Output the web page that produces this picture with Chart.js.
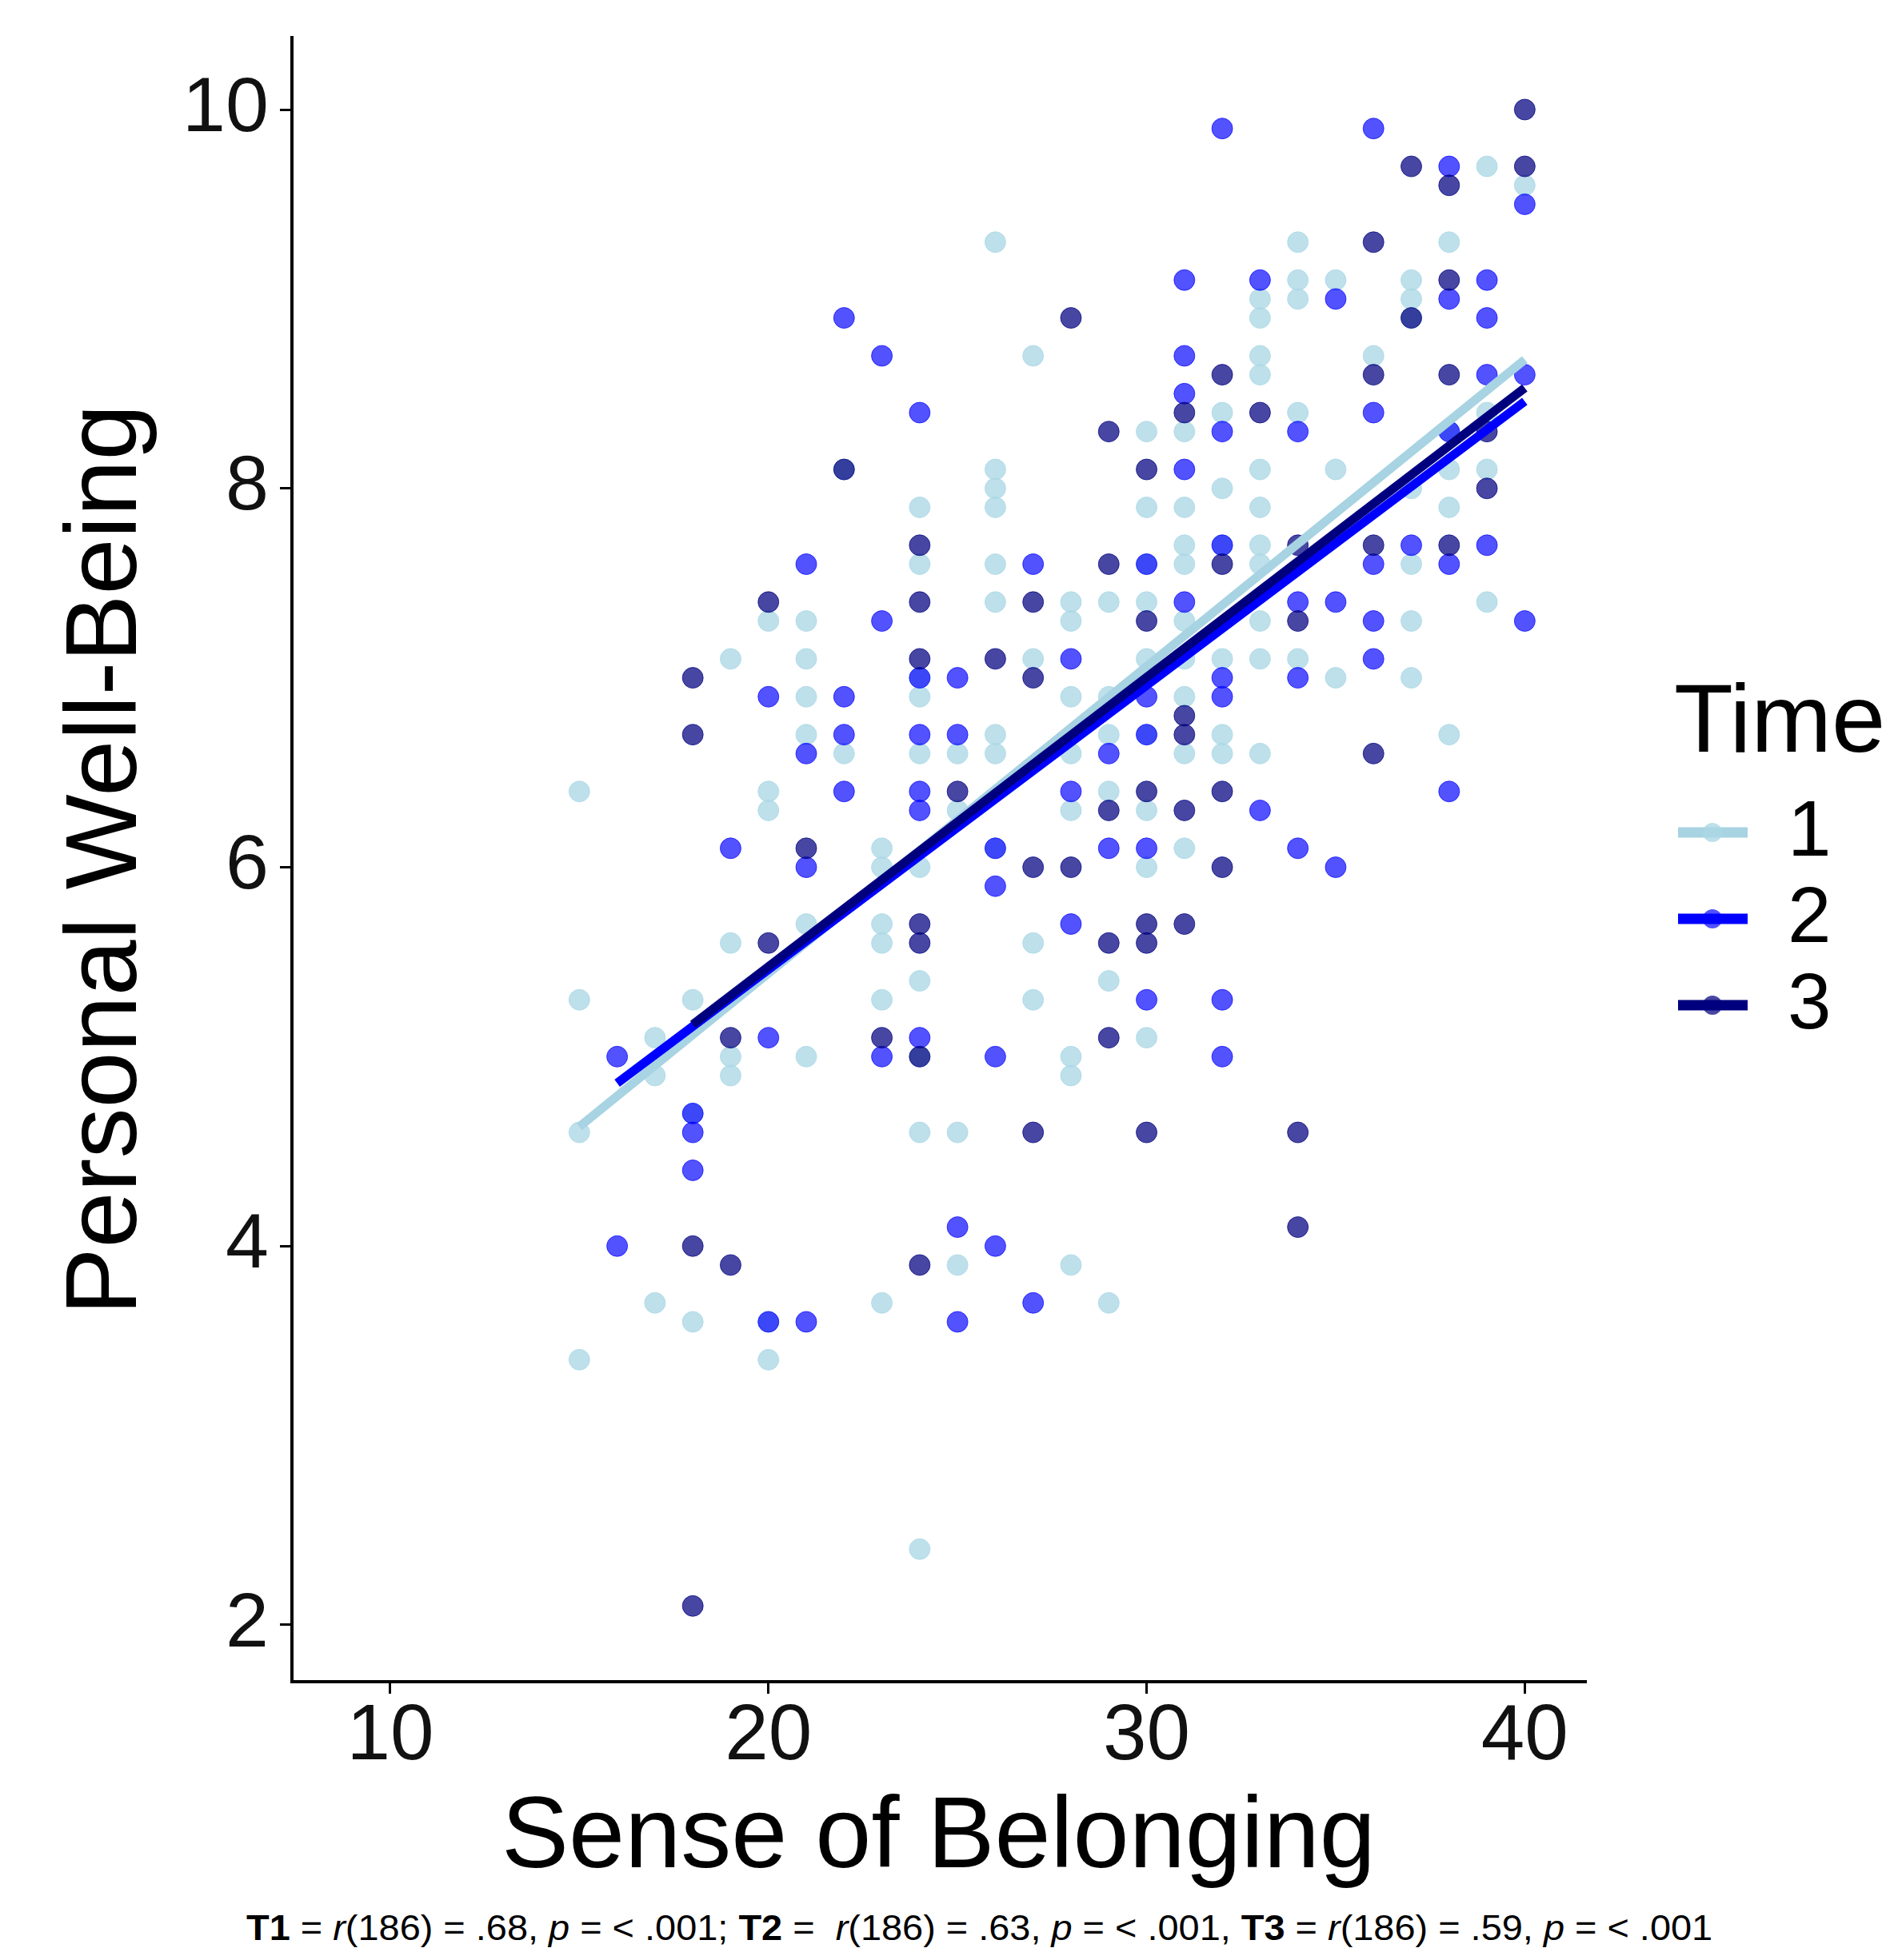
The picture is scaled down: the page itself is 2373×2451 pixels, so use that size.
<!DOCTYPE html>
<html>
<head>
<meta charset="utf-8">
<title>Sense of Belonging vs Personal Well-Being</title>
<script src="https://cdn.jsdelivr.net/npm/chart.js@4.4.1/dist/chart.umd.min.js"></script>
<style>
  body { margin: 0; background: #fff; }
  #wrap { position: relative; width: 2373px; height: 2451px; background: #fff; }
  #chartBox { position: absolute; left: 0; top: 0; width: 2373px; height: 2376px; }
  #note {
    position: absolute; left: 308px; top: 2386px;
    font-family: "Liberation Sans Narrow", "Liberation Sans", sans-serif;
    font-size: 44px; white-space: nowrap; color: #000;
    transform-origin: 0 0;
  }
</style>
</head>
<body>
<div id="wrap">
  <div id="chartBox"><canvas id="scatterChart" width="2373" height="2376"></canvas></div>
  <div id="note"><b>T1</b> = <i>r</i>(186) = .68, <i>p</i> = &lt; .001; <b>T2</b> = &nbsp;<i>r</i>(186) = .63, <i>p</i> = &lt; .001, <b>T3</b> = <i>r</i>(186) = .59, <i>p</i> = &lt; .001</div>
</div>
<script>
// [sense of belonging, personal well-being]
const time1Points = [
  [15,6.4],[15,5.3],[15,4.6],[15,3.4],
  [17,5.1],[17,4.9],[17,3.7],
  [18,5.3],[18,4.7],[18,3.6],
  [19,7.1],[19,5.6],[19,5.0],[19,4.9],
  [20,7.3],[20,6.4],[20,6.3],[20,3.6],[20,3.4],
  [21,7.3],[21,7.1],[21,6.9],[21,6.7],[21,5.7],[21,5.0],
  [22,8.1],[22,6.6],
  [23,6.1],[23,6.0],[23,5.7],[23,5.6],[23,5.3],[23,3.7],
  [24,7.9],[24,7.6],[24,7.0],[24,6.9],[24,6.6],[24,6.0],[24,5.4],[24,5.0],[24,4.6],[24,2.4],
  [25,6.6],[25,6.3],[25,4.6],[25,3.9],
  [26,9.3],[26,8.1],[26,8.0],[26,7.9],[26,7.6],[26,7.4],[26,6.7],[26,6.6],[26,6.1],
  [27,8.7],[27,7.1],[27,5.6],[27,5.3],
  [28,7.4],[28,7.3],[28,6.9],[28,6.6],[28,6.3],[28,5.0],[28,4.9],[28,3.9],
  [29,7.4],[29,6.9],[29,6.7],[29,6.4],[29,5.4],[29,3.7],
  [30,8.3],[30,7.9],[30,7.6],[30,7.4],[30,7.1],[30,6.7],[30,6.3],[30,6.0],[30,5.1],
  [31,8.3],[31,7.9],[31,7.7],[31,7.6],[31,7.3],[31,7.1],[31,6.9],[31,6.6],[31,6.1],
  [32,8.4],[32,8.0],[32,7.7],[32,7.1],[32,6.7],[32,6.6],
  [33,9.0],[33,8.9],[33,8.7],[33,8.6],[33,8.1],[33,7.9],[33,7.7],[33,7.6],[33,7.3],[33,7.1],[33,6.6],
  [34,9.3],[34,9.1],[34,9.0],[34,8.4],[34,7.1],
  [35,9.1],[35,8.1],[35,7.0],
  [36,8.7],
  [37,9.1],[37,9.0],[37,8.9],[37,8.0],[37,7.6],[37,7.3],[37,7.0],
  [38,9.3],[38,8.3],[38,8.1],[38,7.9],[38,6.7],
  [39,9.7],[39,8.4],[39,8.1],[39,7.4],
  [40,9.6]
];

const time2Points = [
  [16,5.0],[16,4.0],
  [18,4.7],[18,4.6],[18,4.4],
  [19,6.1],
  [20,6.9],[20,5.1],[20,3.6],
  [21,7.6],[21,6.6],[21,6.0],[21,3.6],
  [22,8.9],[22,6.9],[22,6.7],[22,6.4],
  [23,8.7],[23,7.3],[23,5.0],
  [24,8.4],[24,7.0],[24,6.7],[24,6.4],[24,6.3],[24,5.1],
  [25,7.0],[25,6.7],[25,4.1],[25,3.6],
  [26,6.1],[26,5.9],[26,5.0],[26,4.0],
  [27,7.6],[27,3.7],
  [28,7.1],[28,6.4],[28,5.7],
  [29,6.6],[29,6.1],
  [30,7.6],[30,6.9],[30,6.7],[30,6.1],[30,5.3],
  [31,9.1],[31,8.7],[31,8.5],[31,8.1],[31,7.4],
  [32,9.9],[32,8.3],[32,7.7],[32,7.0],[32,6.9],[32,5.3],[32,5.0],
  [33,9.1],[33,6.3],
  [34,8.3],[34,7.4],[34,7.0],[34,6.1],
  [35,9.0],[35,7.4],[35,6.0],
  [36,9.9],[36,8.4],[36,7.6],[36,7.3],[36,7.1],
  [37,7.7],
  [38,9.7],[38,9.0],[38,8.3],[38,7.6],[38,6.4],
  [39,9.1],[39,8.9],[39,8.6],[39,7.7],
  [40,9.5],[40,8.6],[40,7.3]
];

const time3Points = [
  [18,7.0],[18,6.7],[18,4.0],[18,2.1],
  [19,5.1],[19,3.9],
  [20,7.4],[20,5.6],
  [21,6.1],
  [22,8.1],
  [23,5.1],
  [24,7.7],[24,7.4],[24,7.1],[24,5.7],[24,5.6],[24,5.0],[24,3.9],
  [25,6.4],
  [26,7.1],
  [27,7.4],[27,7.0],[27,6.0],[27,4.6],
  [28,8.9],[28,6.0],
  [29,8.3],[29,7.6],[29,6.3],[29,5.6],[29,5.1],
  [30,8.1],[30,7.3],[30,6.4],[30,5.7],[30,5.6],[30,4.6],
  [31,8.4],[31,6.8],[31,6.7],[31,6.3],[31,5.7],
  [32,8.6],[32,7.6],[32,6.4],[32,6.0],
  [33,8.4],
  [34,7.7],[34,7.3],[34,4.6],[34,4.1],
  [36,9.3],[36,8.6],[36,7.7],[36,6.6],
  [37,9.7],[37,8.9],
  [38,9.6],[38,9.1],[38,8.6],[38,7.7],
  [39,8.3],[39,8.0],
  [40,10.0],[40,9.7]
];

// fitted lines, end points
const time1Fit = [[15,4.63],[40,8.68]];
const time2Fit = [[16,4.86],[40,8.46]];
const time3Fit = [[18,5.17],[40,8.53]];

const timeLabels = ["1", "2", "3"];
const xTicks = [10, 20, 30, 40];
const yTicks = [2, 4, 6, 8, 10];

const lineColors = ["#a7d3e2", "#0000ff", "#00007f"];
const pointColors = ["rgba(173,216,230,0.8)", "rgba(0,0,255,0.68)", "rgba(0,0,128,0.72)"];

const toXY = (arr) => arr.map((p) => ({ x: p[0], y: p[1] }));

const fitSet = (fit, i) => ({
  type: "line",
  label: timeLabels[i],
  data: toXY(fit),
  borderColor: lineColors[i],
  backgroundColor: lineColors[i],
  borderWidth: 11,
  pointRadius: 0,
  fill: false,
  order: 2 - i,
  dotColor: pointColors[i],
});

const pointSet = (pts, i) => ({
  type: "scatter",
  label: "Time " + timeLabels[i] + " points",
  data: toXY(pts),
  backgroundColor: pointColors[i],
  borderColor: pointColors[i],
  borderWidth: 1,
  pointRadius: 13,
  order: 5 - i,
});

const legendTitle = "Time";

const timeLegend = {
  id: "timeLegend",
  afterDraw(chart) {
    const ctx = chart.ctx;
    ctx.save();
    ctx.fillStyle = "#000";
    ctx.textBaseline = "alphabetic";
    ctx.font = '121px "Liberation Sans", Arial, sans-serif';
    ctx.fillText(legendTitle, 2093, 940);
    const fits = chart.data.datasets.filter((d) => d.type === "line");
    fits.forEach((ds, i) => {
      const y = 1041 + i * 108;
      ctx.strokeStyle = ds.borderColor;
      ctx.lineWidth = 13;
      ctx.beginPath();
      ctx.moveTo(2098, y);
      ctx.lineTo(2185, y);
      ctx.stroke();
      ctx.fillStyle = ds.dotColor;
      ctx.beginPath();
      ctx.arc(2141, y, 12, 0, Math.PI * 2);
      ctx.fill();
      ctx.fillStyle = "#000";
      ctx.font = '98px "Liberation Sans", Arial, sans-serif';
      ctx.textBaseline = "middle";
      ctx.fillText(ds.label, 2235, y + 2);
    });
    ctx.restore();
  },
};

Chart.defaults.font.family = '"Liberation Sans", Arial, sans-serif';
Chart.defaults.color = "#111";

const ctx = document.getElementById("scatterChart").getContext("2d");
new Chart(ctx, {
  type: "scatter",
  data: {
    datasets: [
      fitSet(time1Fit, 0),
      fitSet(time2Fit, 1),
      fitSet(time3Fit, 2),
      pointSet(time1Points, 0),
      pointSet(time2Points, 1),
      pointSet(time3Points, 2),
    ],
  },
  options: {
    responsive: false,
    animation: false,
    layout: { padding: { left: 60, right: 391, top: 47, bottom: 0 } },
    plugins: {
      legend: { display: false },
      tooltip: { enabled: false },
    },
    scales: {
      x: {
        type: "linear",
        position: "bottom",
        min: 7.4,
        max: 41.6,
        afterBuildTicks: (axis) => {
          axis.ticks = xTicks.map((v) => ({ value: v }));
        },
        afterFit: (scale) => {
          scale.height = 273;
        },
        ticks: { font: { size: 98, lineHeight: 1 }, padding: 6, color: "#111" },
        grid: { drawOnChartArea: false, drawTicks: true, tickLength: 15, color: "#000", lineWidth: 3 },
        border: { display: true, color: "#000", width: 4 },
        title: {
          display: true,
          text: "Sense of Belonging",
          font: { size: 126 },
          color: "#000",
          padding: 0,
        },
      },
      y: {
        type: "linear",
        min: 1.7,
        max: 10.38,
        afterBuildTicks: (axis) => {
          axis.ticks = yTicks.map((v) => ({ value: v }));
        },
        afterFit: (scale) => {
          scale.width = 305;
        },
        // small lineHeight keeps the top label from pushing the plot area down
        ticks: { font: { size: 97, lineHeight: 0.5 }, padding: 14, color: "#111" },
        grid: { drawOnChartArea: false, drawTicks: true, tickLength: 15, color: "#000", lineWidth: 3 },
        border: { display: true, color: "#000", width: 4 },
        title: {
          display: true,
          text: "Personal Well-Being",
          font: { size: 126 },
          color: "#000",
          padding: 0,
        },
      },
    },
  },
  plugins: [timeLegend],
});

// footnote is set in a narrow face; stretch it to the width used in the figure
document.fonts.ready.then(() => {
  const note = document.getElementById("note");
  const w = note.getBoundingClientRect().width;
  note.style.transform = "scaleX(" + (1834 / w).toFixed(3) + ")";
});
</script>
</body>
</html>
